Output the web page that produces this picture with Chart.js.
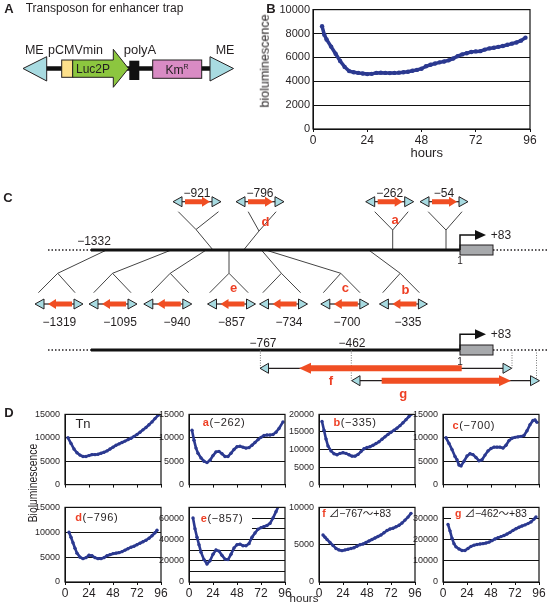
<!DOCTYPE html>
<html>
<head>
<meta charset="utf-8">
<script src="https://cdn.jsdelivr.net/npm/chart.js@4.4.0/dist/chart.umd.min.js"></script>
<style>
body { margin: 0; background: #fff; }
#page { position: relative; width: 548px; height: 611px; overflow: hidden; font-family: "Liberation Sans", Arial, "Noto Sans CJK JP", sans-serif; color: #231f20; }
#page canvas { position: absolute; }
.t { position: absolute; white-space: nowrap; transform: translate(-50%, -50%); line-height: 1; font-size: 12px; z-index: 5; }
.red { color: #ee3f24; font-weight: bold; }
</style>
</head>
<body>
<div id="page"><canvas id="diagram" width="548" height="611" style="left:0;top:0"></canvas></div>
<script>
// ---- data: panel B ----
const panelBHours = [4,5,6,8,10,12,14,16,18,20,22,24,26,28,30,32,34,36,38,40,42,44,46,48,50,52,54,56,58,60,62,64,66,68,70,72,74,76,78,80,82,84,86,88,90,92,94];
const panelBValues = [8600,7900,7500,6900,6300,5700,5200,4850,4750,4700,4650,4600,4620,4700,4720,4700,4680,4700,4720,4750,4800,4880,4950,5050,5250,5380,5480,5580,5650,5750,5900,6100,6250,6350,6450,6500,6520,6650,6750,6800,6880,6950,7050,7150,7250,7400,7650];
const panelBTicks = [0, 2000, 4000, 6000, 8000, 10000];

// ---- data: panel D ----
const tnHours = [3,6,9,12,15,18,21,24,27,30,33,36,39,42,45,48,51,54,57,60,63,66,69,72,75,78,81,84,87,90,93,95];
const tnValues = [10000,8800,7600,6800,6300,6000,6000,6200,6400,6400,6500,6700,6900,7200,7600,8000,8400,8700,9000,9300,9600,9900,10300,10700,11200,11700,12200,12800,13400,14100,14800,15200];
const aHours = [3,5,7,9,12,15,18,21,24,27,30,33,36,39,42,45,48,51,54,57,60,63,66,69,72,75,78,81,84,87,90,94];
const aValues = [11600,9500,7800,6700,5700,5000,4700,5200,6200,7000,7100,6600,6000,6000,6700,7500,8100,8200,8000,7800,7900,8400,9000,9600,10100,10500,10600,10600,10700,11200,12000,13400];
const bHours = [3,5,7,9,12,15,18,21,24,27,30,33,36,39,42,45,48,51,54,57,60,63,66,69,72,75,78,81,84,87,90,93];
const bValues = [18000,15500,13000,11000,9600,8800,8500,8900,9100,8900,8500,8100,8100,8600,9400,10200,10600,10800,11200,11700,12200,12900,13600,14300,14900,15500,16100,16800,17600,18500,19400,20200];
const cHours = [3,6,9,12,14,16,18,21,24,27,30,33,36,39,42,45,48,51,54,57,60,63,66,69,72,75,78,81,84,87,90,92,94];
const cValues = [10000,8800,7500,6000,5300,4200,4000,5000,6100,6600,6400,5800,5100,5300,6300,7200,7700,8000,8000,8000,7800,8400,9400,9900,10100,10200,10300,10500,11500,12800,13700,13800,13300];
const dHours = [4,6,8,10,12,15,18,21,24,27,30,33,36,39,42,45,48,51,54,57,60,63,66,69,72,75,78,81,84,87,90,92];
const dValues = [10000,9000,7900,6800,5800,5000,4700,4900,5400,5300,4900,4700,4700,4900,5300,5500,5700,5800,5900,6100,6400,6700,7000,7200,7500,7800,8100,8400,8800,9300,9900,10400];
const eHours = [4,6,8,10,12,15,18,21,24,27,30,33,36,39,42,45,48,51,54,57,60,63,66,69,72,75,78,81,84,87,90];
const eValues = [60000,50000,42000,35000,28000,21000,17000,20000,26000,30000,29000,25000,21500,21000,26000,32000,35000,35500,34000,34000,36000,42000,46000,49500,51000,52000,53000,55000,60000,66000,72000];
const fHours = [4,6,8,11,14,17,20,23,26,29,32,35,38,41,44,47,50,53,56,59,62,65,68,71,74,77,80,83,86,89,92];
const fValues = [6300,6000,5700,5300,4900,4500,4300,4200,4300,4400,4500,4600,4800,5000,5100,5300,5500,5700,5900,6100,6300,6600,6900,7100,7200,7400,7600,7900,8300,8700,9200];
const gHours = [5,7,9,11,13,16,19,22,25,28,31,34,37,40,43,46,49,52,55,58,61,64,67,70,73,76,79,82,85,88,91,93];
const gValues = [27000,24000,20500,18000,16500,15500,14800,14800,15700,16700,17300,17600,17800,18000,18300,18700,19400,20200,20800,21300,21800,22500,23300,24200,25000,25700,26300,26800,27400,28200,29500,30500];

const hourTicks = [0, 24, 48, 72, 96];
const ticks15k = [0, 5000, 10000, 15000];
const ticks20k = [0, 5000, 10000, 15000, 20000];
const ticks10k = [0, 5000, 10000];
const ticksE = [0, 10000, 20000, 30000, 40000, 50000, 60000, 70000];
const labelsE = [0, 20000, 40000, 60000];
const ticksG = [0, 10000, 20000, 30000, 35000];
const labelsG = [0, 10000, 20000, 30000];

const BLUE = '#2b3990';
const page = document.getElementById('page');
Chart.defaults.font.family = '"Liberation Sans", Arial, sans-serif';
Chart.defaults.color = '#231f20';

function put(html, x, y, style) {
  const d = document.createElement('div');
  d.className = 't';
  d.innerHTML = html;
  d.style.left = x + 'px';
  d.style.top = y + 'px';
  if (style) d.style.cssText += style;
  page.appendChild(d);
  return d;
}

function makeCanvas(left, top, w, h) {
  const c = document.createElement('canvas');
  c.width = w; c.height = h;
  c.style.left = left + 'px'; c.style.top = top + 'px';
  page.appendChild(c);
  return c;
}

// full frame round the plot area + optional white mask behind a label
const boxPlugin = {
  id: 'box',
  beforeDatasetsDraw(chart) {
    const m = chart.options.plugins.box && chart.options.plugins.box.mask;
    if (!m) return;
    const c = chart.ctx;
    c.save(); c.fillStyle = '#fff'; c.fillRect(m[0], m[1], m[2], m[3]); c.restore();
  },
  afterDraw(chart) {
    const a = chart.chartArea, c = chart.ctx;
    c.save(); c.strokeStyle = '#111'; c.lineWidth = 1.2;
    c.strokeRect(a.left, a.top, a.right - a.left, a.bottom - a.top);
    c.restore();
  }
};

function lineChart(o) {
  const cv = makeCanvas(o.left - o.yW, o.top - o.padTop, o.yW + o.plotW + o.padRight, o.padTop + o.plotH + o.xH);
  const labels = o.yLabels || o.yTicks;
  return new Chart(cv, {
    type: 'line',
    data: {
      datasets: [{
        data: o.hours.map((x, i) => ({ x: x, y: o.values[i] })),
        borderColor: BLUE, backgroundColor: BLUE,
        borderWidth: o.lw, pointRadius: o.pr, pointBorderWidth: 0, tension: 0
      }]
    },
    options: {
      responsive: false, animation: false,
      layout: { autoPadding: false, padding: { top: o.padTop, right: o.padRight, left: 0, bottom: 0 } },
      plugins: { legend: { display: false }, tooltip: { enabled: false }, box: { mask: o.mask } },
      scales: {
        x: {
          type: 'linear', min: 0, max: 96,
          afterFit(s) { s.height = o.xH; },
          afterBuildTicks(s) { s.ticks = hourTicks.map(v => ({ value: v })); },
          ticks: { display: o.showX, font: { size: o.xFont }, padding: 1, maxRotation: 0, autoSkip: false },
          grid: { drawOnChartArea: false, drawTicks: true, tickLength: 3, color: '#111' },
          border: { color: '#111' }
        },
        y: {
          type: 'linear', min: 0, max: o.yTicks[o.yTicks.length - 1],
          afterFit(s) { s.width = o.yW; },
          afterBuildTicks(s) { s.ticks = o.yTicks.map(v => ({ value: v })); },
          ticks: {
            font: { size: o.yFont }, padding: o.yPad, autoSkip: false,
            callback: v => labels.includes(v) ? String(v) : ''
          },
          grid: { color: '#111', lineWidth: 1, drawTicks: false },
          border: { color: '#111' }
        }
      }
    },
    plugins: [boxPlugin]
  });
}

// ---- panel B ----
lineChart({
  left: 313, top: 7, plotW: 217, plotH: 122.3, yW: 42, padTop: 7, padRight: 18, xH: 30,
  hours: panelBHours, values: panelBValues, yTicks: panelBTicks,
  showX: true, xFont: 12, yFont: 11, yPad: 3, lw: 3.5, pr: 2.2
});

// ---- panel D ----
const colLeft = [65, 189, 319, 443];
const row1 = { top: 410, plotH: 80, xH: 5, showX: false };
const row2 = { top: 503, plotH: 79, xH: 20, showX: true };
function small(col, row, hours, values, yTicks, yLabels, mask) {
  lineChart({
    left: colLeft[col], top: row.top, plotW: 96, plotH: row.plotH, yW: 42, padTop: 6, padRight: 8, xH: row.xH,
    hours: hours, values: values, yTicks: yTicks, yLabels: yLabels,
    showX: row.showX, xFont: 12, yFont: 9, yPad: 5, lw: 2.6, pr: 1.7, mask: mask
  });
}
small(0, row1, tnHours, tnValues, ticks15k);
small(1, row1, aHours, aValues, ticks15k);
small(2, row1, bHours, bValues, ticks20k);
small(3, row1, cHours, cValues, ticks15k);
small(0, row2, dHours, dValues, ticks15k);
small(1, row2, eHours, eValues, ticksE, labelsE, [43, 10, 62, 22]);
small(2, row2, fHours, fValues, ticks10k);
small(3, row2, gHours, gValues, ticksG, labelsG, [50, 11, 78, 13]);

// ---- diagrams A and C ----
const ctx = document.getElementById('diagram').getContext('2d');
const TEAL = '#a8dbe1', RED = '#f04e23', INK = '#231f20';

function seg(x0, y0, x1, y1, w, col, dash) {
  ctx.save();
  ctx.beginPath(); ctx.moveTo(x0, y0); ctx.lineTo(x1, y1);
  ctx.lineWidth = w; ctx.strokeStyle = col || INK;
  if (dash) ctx.setLineDash(dash);
  ctx.stroke(); ctx.restore();
}
function poly(pts, fill, stroke) {
  ctx.beginPath(); ctx.moveTo(pts[0][0], pts[0][1]);
  for (let i = 1; i < pts.length; i++) ctx.lineTo(pts[i][0], pts[i][1]);
  ctx.closePath();
  if (fill) { ctx.fillStyle = fill; ctx.fill(); }
  if (stroke) { ctx.lineWidth = 1; ctx.strokeStyle = stroke; ctx.stroke(); }
}
function tri(tipX, baseX, cy, hh) {
  poly([[tipX, cy], [baseX, cy - hh], [baseX, cy + hh]], TEAL, INK);
}
function redArrow(tail, tip, cy, half, headLen, headHalf) {
  const d = Math.sign(tip - tail), neck = tip - d * headLen;
  poly([[tail, cy - half], [neck, cy - half], [neck, cy - headHalf], [tip, cy], [neck, cy + headHalf], [neck, cy + half], [tail, cy + half]], RED);
}
function tnIcon(cx, cy, dir) {
  seg(cx - 15, cy, cx + 15, cy, 1.2);
  tri(cx - 24, cx - 15, cy, 5);
  tri(cx + 24, cx + 15, cy, 5);
  if (dir > 0) redArrow(cx - 12, cx + 13, cy, 2.5, 8, 5);
  else redArrow(cx + 13, cx - 11, cy, 2.5, 8, 5);
}
function geneLine(y, arrowY) {
  seg(48, y, 91, y, 1.5, INK, [1.5, 2]);
  seg(91, y, 460, y, 3, '#111');
  ctx.fillStyle = '#a7a9ac'; ctx.fillRect(460, y - 5, 33, 10);
  ctx.lineWidth = 1; ctx.strokeStyle = INK; ctx.strokeRect(460, y - 5, 33, 10);
  seg(493, y, 548, y, 1.5, INK, [1.5, 2]);
  ctx.beginPath(); ctx.moveTo(460, y); ctx.lineTo(460, arrowY); ctx.lineTo(477, arrowY);
  ctx.lineWidth = 1.5; ctx.strokeStyle = '#111'; ctx.stroke();
  poly([[475, arrowY - 5], [486, arrowY], [475, arrowY + 5]], '#111');
}

// panel A: transposon
seg(46, 68.5, 211, 68.5, 4.5, '#111');
poly([[23, 68.5], [46.7, 56.7], [46.7, 81]], TEAL, INK);
poly([[210, 56.7], [210, 81], [233.5, 68.5]], TEAL, INK);
ctx.fillStyle = '#fde08b'; ctx.fillRect(61.7, 60, 11, 17.3); ctx.strokeStyle = INK; ctx.strokeRect(61.7, 60, 11, 17.3);
poly([[72.7, 60], [113.3, 60], [113.3, 49.3], [128.5, 68.5], [113.3, 87.3], [113.3, 77.3], [72.7, 77.3]], '#8cc63f', INK);
ctx.fillStyle = '#111'; ctx.fillRect(129.3, 60.7, 10, 19.3);
ctx.fillStyle = '#d98bc4'; ctx.fillRect(152.7, 60, 49, 18.3); ctx.strokeStyle = INK; ctx.strokeRect(152.7, 60, 49, 18.3);

// panel C: insertion sites
const topSites = [
  { label: '−921', cx: 197, attach: 213, fork: [196, 229.5], ends: [178.3, 218.5] },
  { label: '−796', cx: 260, attach: 243.6, fork: [259, 231], ends: [248.2, 276.1] },
  { label: '−262', cx: 389.7, attach: 392.7, fork: [392.7, 230], ends: [374.7, 408.2] },
  { label: '−54', cx: 444, attach: 446, fork: [446, 230], ends: [428.2, 462] }
];
const bottomSites = [
  { label: '−1319', cx: 59, lx: 59.4, attach: 106.6, fork: 57.7, ends: [38.4, 75.1] },
  { label: '−1095', cx: 113, lx: 120, attach: 171.3, fork: 112.5, ends: [93.7, 131] },
  { label: '−940', cx: 167.8, lx: 177, attach: 206.2, fork: 170.2, ends: [151.3, 188.7] },
  { label: '−857', cx: 231.5, lx: 231.6, attach: 229, fork: 229, ends: [209.7, 248.2] },
  { label: '−734', cx: 283.5, lx: 289, attach: 261.4, fork: 281.4, ends: [262.8, 300.6] },
  { label: '−700', cx: 344.8, lx: 347, attach: 265.6, fork: 340.8, ends: [323.3, 360] },
  { label: '−335', cx: 403.4, lx: 408, attach: 368.7, fork: 400.2, ends: [382.7, 419.4] }
];
const GENE_Y = 250, GENE2_Y = 350;
topSites.forEach(s => {
  seg(s.attach, GENE_Y, s.fork[0], s.fork[1], 1, '#444');
  seg(s.fork[0], s.fork[1], s.ends[0], 211.7, 1, '#444');
  seg(s.fork[0], s.fork[1], s.ends[1], 211.7, 1, '#444');
});
bottomSites.forEach(s => {
  seg(s.attach, GENE_Y, s.fork, 273.3, 1, '#444');
  seg(s.fork, 273.3, s.ends[0], 292.7, 1, '#444');
  seg(s.fork, 273.3, s.ends[1], 292.7, 1, '#444');
});
geneLine(GENE_Y, 235);
topSites.forEach(s => tnIcon(s.cx, 201.7, 1));
bottomSites.forEach(s => tnIcon(s.cx, 304, -1));

// deletion constructs f and g
geneLine(GENE2_Y, 334.3);
seg(260.4, GENE2_Y, 260.4, 368.3, 1, '#777', [1, 1.5]);
seg(351.3, GENE2_Y, 351.3, 380.7, 1, '#777', [1, 1.5]);
seg(512, GENE2_Y, 512, 368.3, 1, '#777', [1, 1.5]);
seg(536.5, GENE2_Y, 536.5, 380.7, 1, '#777', [1, 1.5]);
seg(268, 368.3, 503, 368.3, 1.2);
tri(260, 268.5, 368.3, 5); tri(511.7, 503, 368.3, 5);
redArrow(461.7, 299, 368.3, 3, 12, 5.5);
seg(360, 380.7, 530.5, 380.7, 1.2);
tri(351.7, 360, 380.7, 5); tri(539.5, 530.5, 380.7, 5);
redArrow(381.7, 511, 380.7, 3, 12, 5.5);

// ---- texts ----
const bold13 = 'font-weight:bold;font-size:13px;';
put('A', 9, 7.5, bold13);
put('B', 271, 7.5, bold13);
put('C', 8, 197, bold13);
put('D', 9, 412, bold13);

put('Transposon for enhancer trap', 104.5, 8);
put('ME', 34.3, 50, 'font-size:12.5px;');
put('pCMVmin', 75.5, 50, 'font-size:12.5px;');
put('polyA', 140, 48.5, 'font-size:13px;');
put('ME', 225, 50, 'font-size:12.5px;');
put('Luc2P', 93, 69, 'font-size:12px;');
put('Km<sup style="font-size:7px;vertical-align:5px">R</sup>', 177, 69, 'font-size:12px;');

put('bioluminescence', 265, 61, 'font-size:12.5px;transform:translate(-50%,-50%) rotate(-90deg);');
put('hours', 426.7, 152, 'font-size:13px;');

put('−1332', 94, 241);
put('+83', 501, 235);
put('1', 460, 261, 'font-size:10px;');
put('+83', 501, 334.3);
put('1', 460, 362, 'font-size:10px;');
put('−767', 263, 342.7);
put('−462', 352, 342.7);
topSites.forEach(s => put(s.label, s.cx, 192.5));
bottomSites.forEach(s => put(s.label, s.lx, 321.7));
const redLetter = 'color:#ee3f24;font-weight:bold;font-size:13px;';
put('d', 265.6, 221, redLetter);
put('a', 395, 219.3, redLetter);
put('e', 233.5, 287.3, redLetter);
put('c', 345.3, 287.3, redLetter);
put('b', 405.5, 289.3, redLetter);
put('f', 331, 380, redLetter);
put('g', 403.3, 393, redLetter);

const panelLab = 'font-size:11px;letter-spacing:0.6px;';
put('Tn', 83, 423.3, 'font-size:13px;');
put('<span class="red">a</span>(−262)', 224, 421.7, panelLab);
put('<span class="red">b</span>(−335)', 355, 422.3, panelLab);
put('<span class="red">c</span>(−700)', 473.7, 425, panelLab);
put('<span class="red">d</span>(−796)', 96.7, 516.7, panelLab);
put('<span class="red">e</span>(−857)', 222, 518.3, panelLab);
put('<span class="red">f</span> ⊿−767～+83', 356.7, 513.3, 'font-size:10.5px;');
put('<span class="red">g</span> ⊿−462～+83', 491, 513.3, 'font-size:10.5px;');

put('Bioluminescence', 32, 483, 'font-size:13px;transform:translate(-50%,-50%) rotate(-90deg) scaleX(0.8);');
put('hours', 304, 599, 'font-size:11.5px;');
</script>
</body>
</html>
